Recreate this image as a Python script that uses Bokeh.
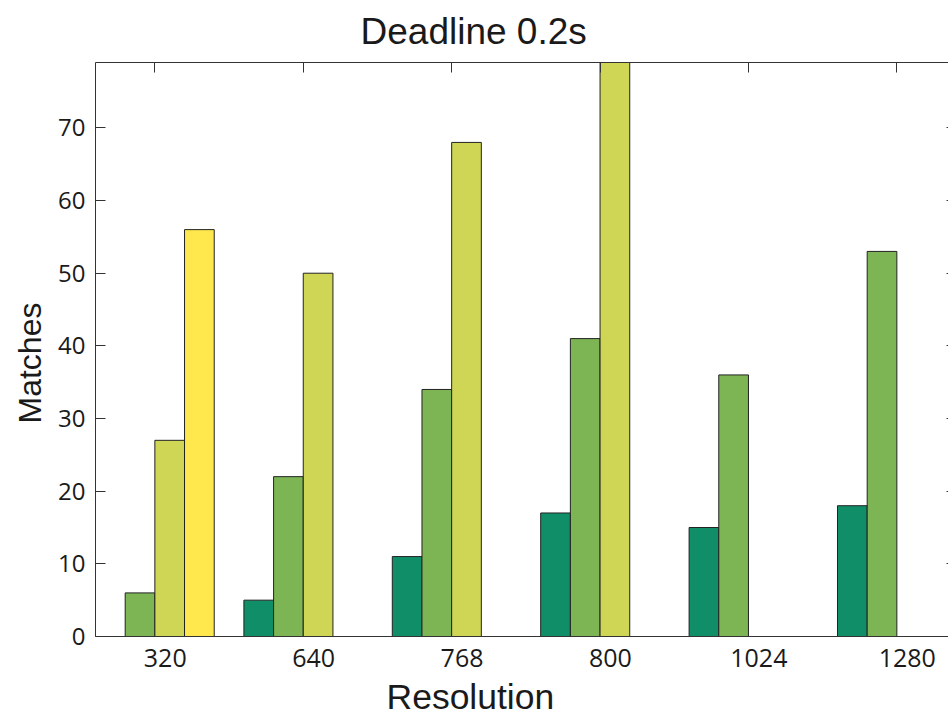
from bokeh.plotting import figure
from bokeh.models import LinearAxis, FixedTicker, Range1d, ColumnDataSource, CustomJSTickFormatter, Title
from bokeh.embed import file_html
from bokeh.resources import INLINE

# ---- data ----
resolutions = ["320", "640", "768", "800", "1024", "1280"]
series_a = [0, 5, 11, 17, 15, 18]
series_b = [6, 22, 34, 41, 36, 53]
series_c = [27, 50, 68, 79, 0, 0]
series_d = [56, 0, 0, 0, 0, 0]
y_ticks = [0, 10, 20, 30, 40, 50, 60, 70]

series = [series_a, series_b, series_c, series_d]
colors = ["#108e68", "#7db454", "#cfd655", "#fee84e"]

n = len(resolutions)
bar_w = 0.2
label_shift = 0.07

TICK_FONT = "Open Sans"
LABEL_FONT = "Liberation Sans"
TXT = "#1a1a1a"
SPINE = "#333333"

p = figure(width=948, height=723, output_backend="svg", toolbar_location=None,
           x_range=Range1d(0, 5.748), y_range=Range1d(0, 79),
           x_axis_location=None, y_axis_location=None, title=None,
           min_border_left=95, min_border_right=0, min_border_top=62, min_border_bottom=87)
p.outline_line_color = None
p.xgrid.visible = False
p.ygrid.visible = False
p.background_fill_color = "white"
p.border_fill_color = "white"

for k, vals in enumerate(series):
    src = ColumnDataSource(dict(x=[i + bar_w * k + bar_w / 2 for i in range(n)], top=vals))
    p.vbar(x="x", top="top", bottom=0, width=bar_w, source=src,
           fill_color=colors[k], line_color="#222222", line_width=1)

# left axis
left = LinearAxis(ticker=FixedTicker(ticks=y_ticks))
left.major_tick_in = 10
left.major_tick_out = 0
left.minor_tick_in = 0
left.minor_tick_out = 0
left.axis_line_color = SPINE
left.major_tick_line_color = SPINE
left.major_label_text_font = TICK_FONT
left.major_label_text_font_size = "24px"
left.major_label_text_color = TXT
left.major_label_standoff = 10
p.add_layout(left, "left")

ylabel = Title(text="Matches", align="left", offset=213,
               text_font=LABEL_FONT, text_font_size="32px", text_font_style="normal",
               text_color=TXT, standoff=16)
p.add_layout(ylabel, "left")

# bottom axis
bottom = LinearAxis(ticker=FixedTicker(ticks=[i + 2 * bar_w + label_shift for i in range(n)]),
                    formatter=CustomJSTickFormatter(args=dict(labels=resolutions),
                                                    code="return labels[Math.floor(tick + 1e-6)];"))
bottom.major_tick_in = 0
bottom.major_tick_out = 0
bottom.minor_tick_in = 0
bottom.minor_tick_out = 0
bottom.axis_line_color = SPINE
bottom.major_label_text_font = TICK_FONT
bottom.major_label_text_font_size = "25px"
bottom.major_label_text_color = TXT
bottom.major_label_standoff = 12
p.add_layout(bottom, "below")

xlabel = Title(text="Resolution", align="left", offset=291, vertical_align="bottom",
               text_font=LABEL_FONT, text_font_size="35.5px", text_font_style="normal",
               text_color=TXT, standoff=11)
p.add_layout(xlabel, "below")

# top axis (ticks only)
top = LinearAxis(ticker=FixedTicker(ticks=[i + 2 * bar_w for i in range(n)]),
                 formatter=CustomJSTickFormatter(code="return '';"))
top.major_tick_in = 10
top.major_tick_out = 0
top.minor_tick_in = 0
top.minor_tick_out = 0
top.axis_line_color = SPINE
top.major_tick_line_color = SPINE
top.major_label_text_font_size = "0px"
top.major_label_standoff = 0
p.add_layout(top, "above")

# right axis (ticks only)
right = LinearAxis(ticker=FixedTicker(ticks=y_ticks),
                   formatter=CustomJSTickFormatter(code="return '';"))
right.major_tick_in = 2
right.major_tick_out = 0
right.minor_tick_in = 0
right.minor_tick_out = 0
right.axis_line_color = None
right.major_tick_line_color = SPINE
right.major_label_text_font_size = "0px"
right.major_label_standoff = 0
p.add_layout(right, "right")

title = Title(text="Deadline 0.2s", align="left", offset=265, vertical_align="top",
              text_font=LABEL_FONT, text_font_size="37px", text_font_style="normal",
              text_color=TXT, standoff=17)
p.add_layout(title, "above")

open("out.html", "w").write(file_html(p, INLINE))
